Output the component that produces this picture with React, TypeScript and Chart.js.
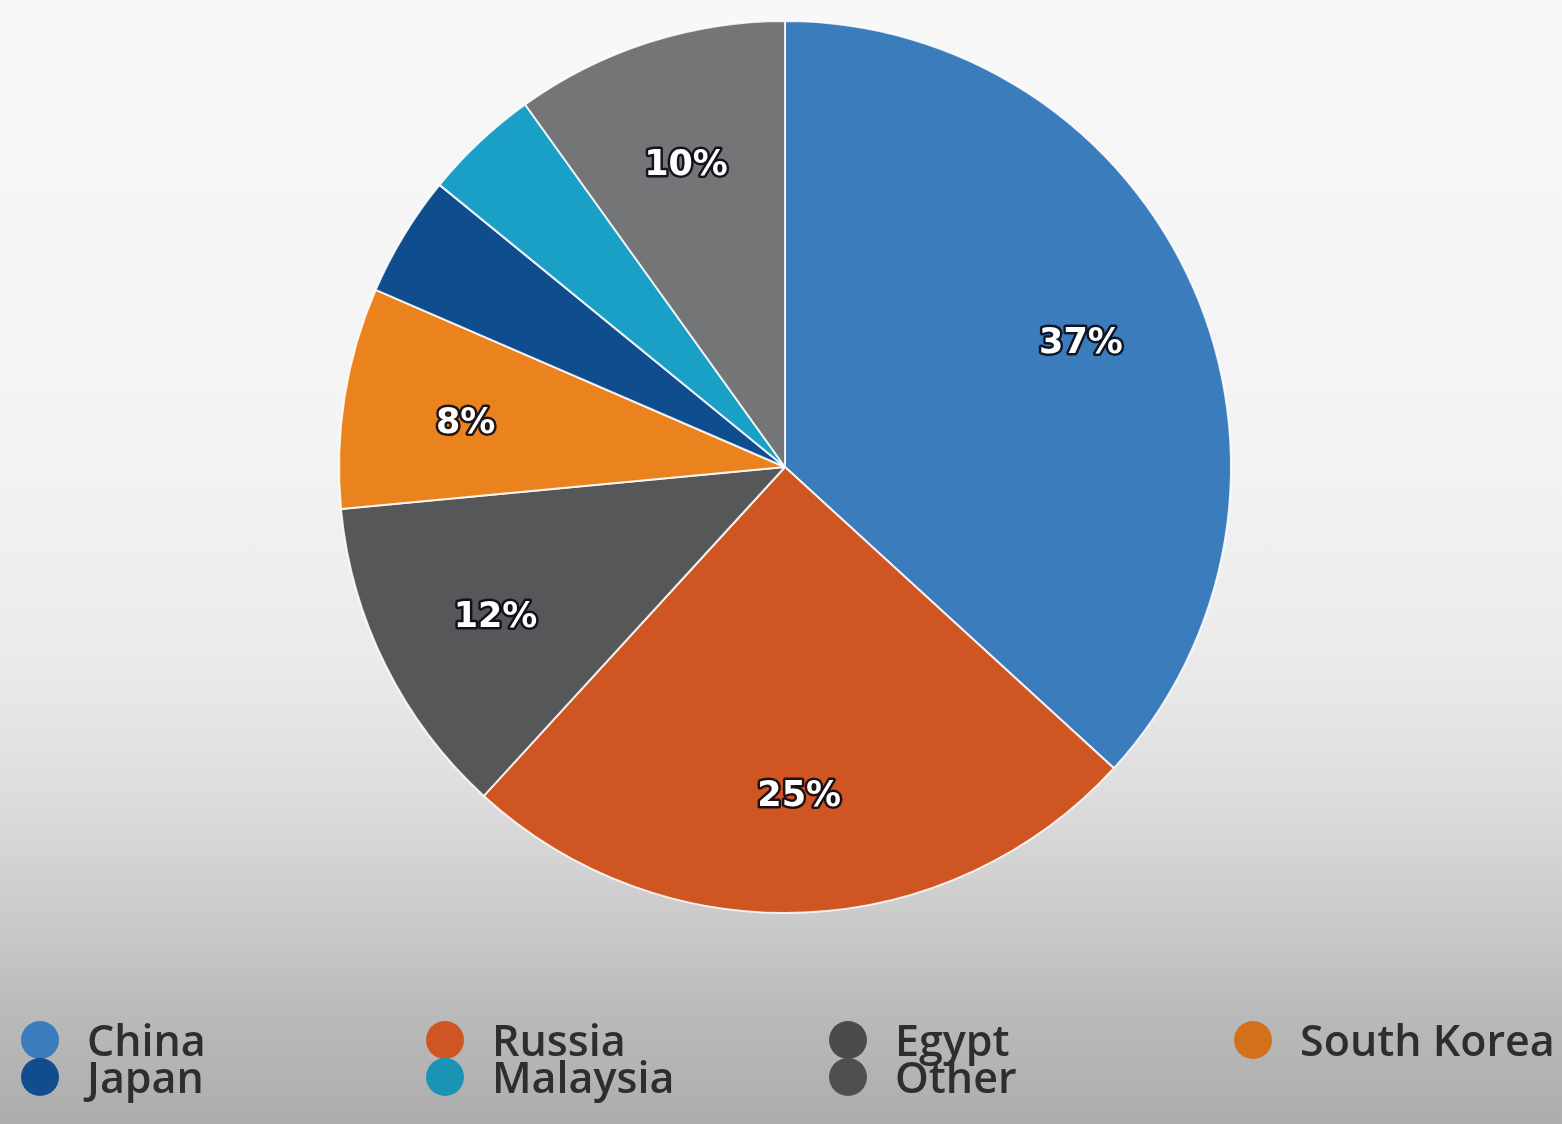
import React, { useEffect, useRef } from "react";
import { Chart, registerables } from "chart.js";

Chart.register(...registerables);

const categories = ["China", "Russia", "Egypt", "South Korea", "Japan", "Malaysia", "Other"];
const shares = [36.8, 25, 11.7, 8, 4.4, 4.2, 9.9];
const sliceColors = ["#3b7cbd", "#cf5522", "#555759", "#ea821e", "#104d8e", "#1a9fc6", "#747576"];
const legendColors = ["#3b7cbd", "#cf5522", "#4a4b4d", "#d2701c", "#104d8e", "#1a93b4", "#4e4f51"];
const labelMinimum = 5;

const sliceLabels = {
  id: "sliceLabels",
  afterDatasetsDraw(chart: any) {
    const ctx = chart.ctx;
    const meta = chart.getDatasetMeta(0);
    const values = chart.data.datasets[0].data as number[];
    ctx.save();
    ctx.font = "bold 35px 'DejaVu Sans'";
    ctx.textAlign = "center";
    ctx.textBaseline = "middle";
    ctx.lineJoin = "round";
    meta.data.forEach((arc: any, i: number) => {
      const v = values[i];
      if (v < labelMinimum) return;
      const { x, y, startAngle, endAngle, outerRadius } = arc.getProps(
        ["x", "y", "startAngle", "endAngle", "outerRadius"],
        true
      );
      const mid = (startAngle + endAngle) / 2;
      const r = outerRadius * 0.725;
      const tx = x + Math.cos(mid) * r;
      const ty = y + Math.sin(mid) * r + 7;
      const text = Math.round(v) + "%";
      ctx.lineWidth = 5;
      ctx.strokeStyle = "rgba(10,10,20,0.9)";
      ctx.strokeText(text, tx, ty);
      ctx.fillStyle = "#ffffff";
      ctx.fillText(text, tx, ty);
    });
    ctx.restore();
  },
};

export default function App() {
  const canvasRef = useRef<HTMLCanvasElement | null>(null);

  useEffect(() => {
    if (!canvasRef.current) return;
    const chart = new Chart(canvasRef.current, {
      type: "pie",
      data: {
        labels: categories,
        datasets: [
          {
            data: shares,
            backgroundColor: sliceColors,
            borderColor: "rgba(255,255,255,0.85)",
            borderWidth: 2,
          },
        ],
      },
      options: {
        animation: false,
        responsive: false,
        maintainAspectRatio: false,
        layout: { padding: { top: 20, bottom: 210, left: 8, right: 0 } },
        plugins: {
          legend: { display: false },
          tooltip: { enabled: false },
        },
      },
      plugins: [sliceLabels],
    });
    return () => chart.destroy();
  }, []);

  const colX = [40, 445, 848, 1253];
  const rowY = [1040, 1077];

  return (
    <div
      style={{
        position: "fixed",
        left: 0,
        top: 0,
        width: 1562,
        height: 1124,
        overflow: "hidden",
        background:
          "linear-gradient(to bottom, #f8f8f8 0%, #f3f3f3 40%, #ebebeb 58%, #dedede 70%, #cacaca 82%, #bababa 90%, #adadad 100%)",
      }}
    >
      <canvas
        ref={canvasRef}
        width={1562}
        height={1124}
        style={{ position: "absolute", left: 0, top: 0, width: 1562, height: 1124 }}
      />
      {categories.map((name, i) => {
        const cx = colX[i % 4];
        const cy = rowY[Math.floor(i / 4)];
        return (
          <div key={name}>
            <div
              style={{
                position: "absolute",
                left: cx - 19,
                top: cy - 19,
                width: 38,
                height: 38,
                borderRadius: "50%",
                background: legendColors[i],
              }}
            />
            <div
              style={{
                position: "absolute",
                left: cx + 47,
                top: cy - 26,
                height: 52,
                lineHeight: "52px",
                fontFamily: "'Open Sans', sans-serif",
                fontWeight: 600,
                fontSize: 43,
                color: "#2e2e2e",
                whiteSpace: "nowrap",
              }}
            >
              {name}
            </div>
          </div>
        );
      })}
    </div>
  );
}
